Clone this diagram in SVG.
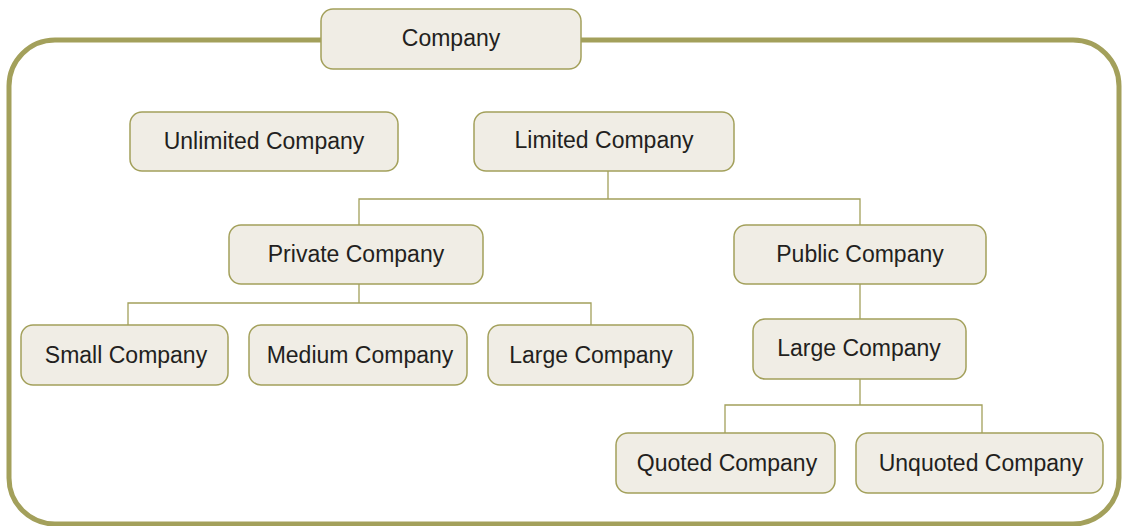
<svg xmlns="http://www.w3.org/2000/svg" width="1124" height="526" viewBox="0 0 1124 526">
<style>
.frame{fill:none;stroke:#A3A05B;stroke-width:5}
.box{fill:#F0EDE5;stroke:#A3A05B;stroke-width:1.5}
.conn{fill:none;stroke:#A3A05B;stroke-width:1.3}
text{font-family:"Liberation Sans",Arial,sans-serif;font-size:23px;fill:#231F20;text-anchor:middle;dominant-baseline:central}
</style>
<rect x="0" y="0" width="1124" height="526" fill="#fff"/>
<rect class="frame" x="9" y="40" width="1110" height="484" rx="46"/>
<g id="connectors">
<path class="conn" d="M608 171V199M359 225V199H860V225"/>
<path class="conn" d="M359 284V303M128 325V303H591V325"/>
<path class="conn" d="M860 284V319"/>
<path class="conn" d="M860 379V405M725 433V405H982V433"/>
</g>
<g id="company"><rect class="box" x="321" y="9" width="260" height="60" rx="12"/><text x="451" y="38">Company</text></g>
<g id="unlimited"><rect class="box" x="130" y="112" width="268" height="59" rx="12"/><text x="264" y="141">Unlimited Company</text></g>
<g id="limited"><rect class="box" x="474" y="112" width="260" height="59" rx="12"/><text x="604" y="140">Limited Company</text></g>
<g id="private"><rect class="box" x="229" y="225" width="254" height="59" rx="12"/><text x="356" y="254">Private Company</text></g>
<g id="public"><rect class="box" x="734" y="225" width="252" height="59" rx="12"/><text x="860" y="254">Public Company</text></g>
<g id="small"><rect class="box" x="21" y="325" width="207" height="60" rx="12"/><text x="126" y="355">Small Company</text></g>
<g id="medium"><rect class="box" x="249" y="325" width="218" height="60" rx="12"/><text x="360" y="355">Medium Company</text></g>
<g id="large-private"><rect class="box" x="488" y="325" width="205" height="60" rx="12"/><text x="591" y="355">Large Company</text></g>
<g id="large-public"><rect class="box" x="753" y="319" width="213" height="60" rx="12"/><text x="859" y="348">Large Company</text></g>
<g id="quoted"><rect class="box" x="616" y="433" width="219" height="60" rx="12"/><text x="727" y="463">Quoted Company</text></g>
<g id="unquoted"><rect class="box" x="856" y="433" width="247" height="60" rx="12"/><text x="981" y="463">Unquoted Company</text></g>
</svg>
